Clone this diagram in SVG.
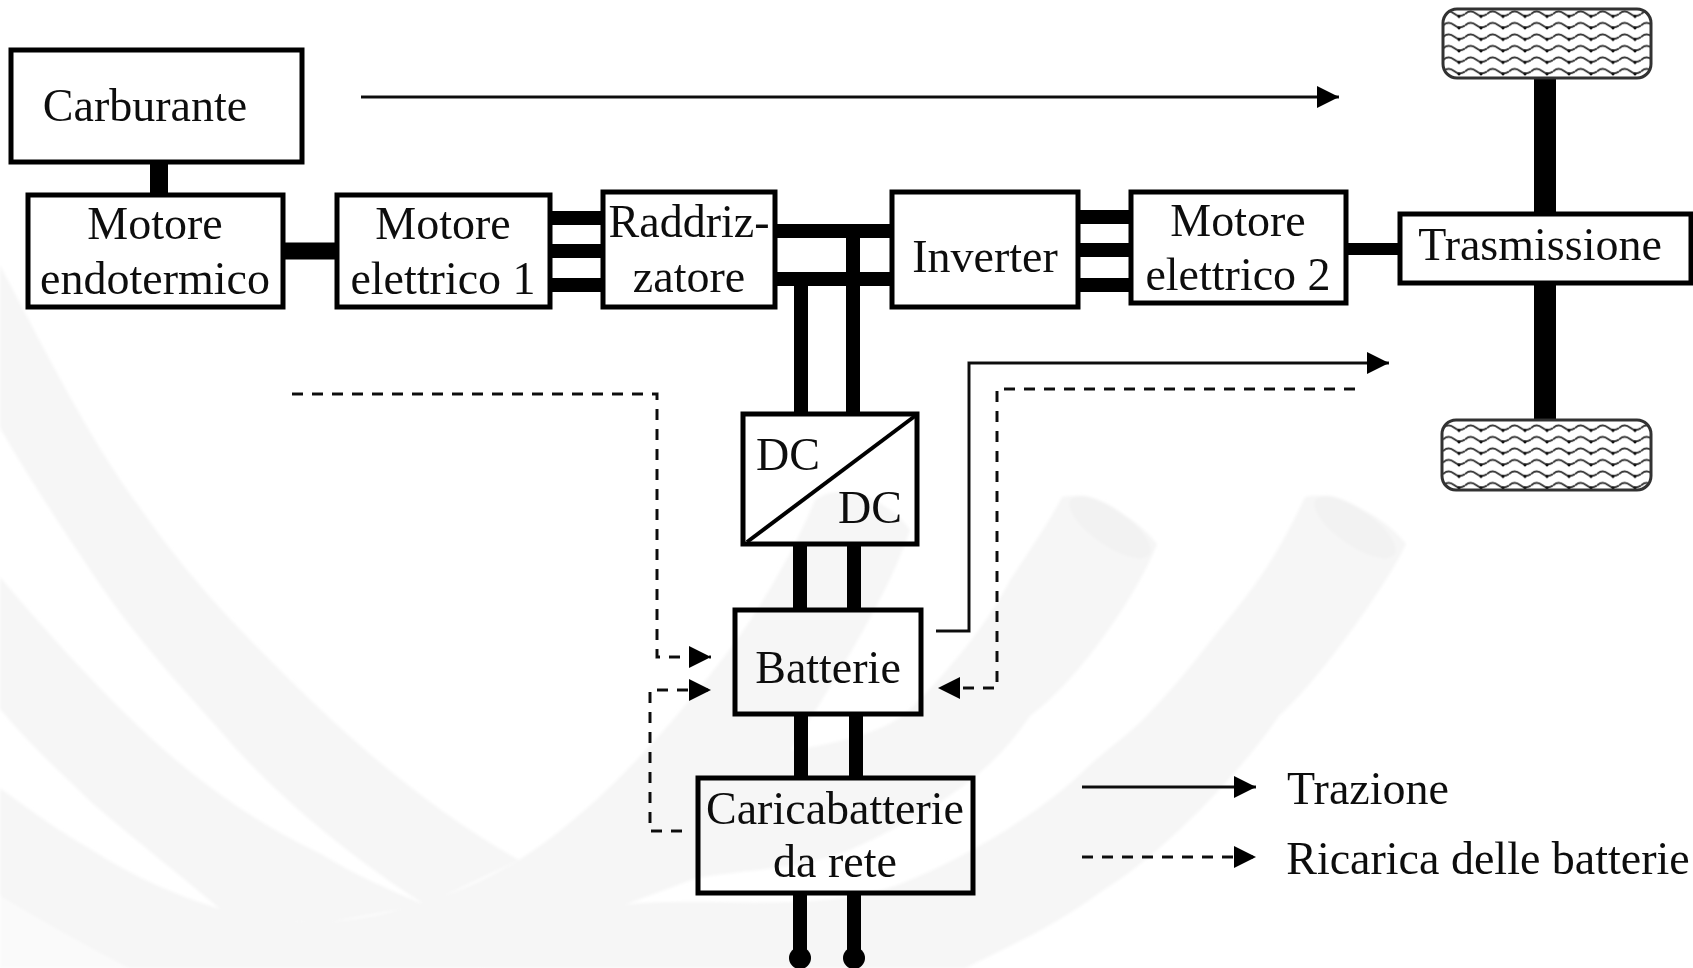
<svg xmlns="http://www.w3.org/2000/svg" width="1693" height="968" viewBox="0 0 1693 968">
<style>
.b{fill:#fff;stroke:#000;stroke-width:5}
.n{fill:none;stroke:#000;stroke-width:5}
.w{stroke:#000;stroke-width:14;fill:none}
.s{stroke:#111;stroke-width:3;fill:none}
.d{stroke:#111;stroke-width:3;fill:none;stroke-dasharray:11 9}
text{font-family:"Liberation Serif","Times New Roman",serif;font-size:46px;fill:#111;text-anchor:middle}
.tire{fill:url(#tread);stroke:#333;stroke-width:3}
.bg{fill:#f6f6f6}
</style>
<defs>
<pattern id="tread" x="1443" y="8" width="22" height="11.5" patternUnits="userSpaceOnUse">
<rect width="22" height="11.5" fill="#fff"/>
<path d="M0 6Q5.500 1 11 5.500T22 6" fill="none" stroke="#333" stroke-width="2"/>
<circle cx="16" cy="8.500" r="1.600" fill="#111"/>
</pattern>
<marker id="a" markerWidth="24" markerHeight="24" refX="23" refY="12" orient="auto" markerUnits="userSpaceOnUse"><path d="M1 1L23 12L1 23z" fill="#000"/></marker>
<filter id="soft" filterUnits="userSpaceOnUse" x="0" y="0" width="1693" height="968"><feGaussianBlur stdDeviation="0.6"/></filter>
<filter id="softer" filterUnits="userSpaceOnUse" x="0" y="0" width="1693" height="968"><feGaussianBlur stdDeviation="1.500"/></filter>
</defs>
<rect width="1693" height="968" fill="#fff"/>
<g id="background" filter="url(#softer)">
<path fill="#fafafa" d="M0 896C40 920 85 945 128 968L0 968Z"/>
<path class="bg" d="M0 265C50 360 90 440 138 505C190 580 235 625 285 675C350 740 430 810 519 860L425 905C340 850 270 790 216 726C170 675 130 630 92 573C60 525 30 480 0 428Z"/>
<path class="bg" d="M0 577C45 630 90 680 138 726C200 785 260 825 321 854C355 875 390 890 425 905L330 922C290 922 255 920 220 909C180 875 135 840 92 803C60 772 30 745 0 709Z"/>
<path class="bg" d="M0 788C30 810 60 832 92 850C130 875 175 895 220 909C255 920 290 922 330 922L330 968L128 968C85 945 40 920 0 896Z"/>
<path class="bg" d="M330 922C400 915 460 895 519 860C590 815 660 740 720 662C750 625 790 560 815 500C840 480 890 500 910 530C880 620 800 730 720 867L624 905C560 940 500 968 480 968L330 968Z"/>
<path class="bg" d="M1062 497C1090 490 1140 520 1157 544C1140 590 1080 680 1030 716C1000 760 960 800 850 850C800 870 740 870 697 878L624 905L720 760C800 750 880 740 910 709C950 670 990 620 1010 580C1030 550 1050 520 1062 497Z"/>
<path class="bg" d="M1305 497C1330 490 1385 515 1406 544C1390 580 1320 680 1279 716C1250 760 1170 850 1102 891C1050 930 1000 950 966 968L480 968C530 950 580 925 624 905C700 895 820 915 900 884C960 860 1030 820 1077 777C1110 745 1130 735 1153 709C1190 670 1210 640 1229 618C1260 580 1280 550 1305 497Z"/>
<ellipse cx="1110" cy="527" rx="48" ry="18" transform="rotate(35 1110 527)" fill="#f2f2f2"/>
<ellipse cx="1355" cy="527" rx="48" ry="18" transform="rotate(35 1355 527)" fill="#f2f2f2"/>
</g>
<g filter="url(#soft)">
<g id="connectors">
<path class="w" style="stroke-width:18" d="M159 162V195"/>
<path class="w" style="stroke-width:17" d="M283 251H337"/>
<path class="w" d="M550 218H603M550 251H603M550 285H603M775 231H892M775 279H892M1078 217H1131M1078 250H1131M1078 285H1131"/>
<path class="w" style="stroke-width:12" d="M1346 249H1400"/>
<path class="w" style="stroke-width:22" d="M1545 78V214M1545 283V420"/>
<path class="w" d="M801 279V414M853 231V414M800 544V610M854 544V610M801 714V778M856 714V778M800 893V955M854 893V955"/>
<circle cx="800" cy="958" r="11"/><circle cx="854" cy="958" r="11"/>
<path class="s" marker-end="url(#a)" d="M361 97H1339"/>
<path class="s" marker-end="url(#a)" d="M936 631H969V363H1389"/>
<path class="d" d="M1355 389H997V688H938" marker-end="url(#a)"/>
<path class="d" d="M292 394H657V657H711" marker-end="url(#a)"/>
<path class="d" d="M682 831H650V690H711" marker-end="url(#a)"/>
<path class="s" marker-end="url(#a)" d="M1082 787H1256"/>
<path class="d" d="M1082 857H1256" marker-end="url(#a)"/>
</g>
<g id="carburante"><rect class="b" x="11" y="50" width="291" height="112"/><text x="145" y="121">Carburante</text></g>
<g id="motore-endotermico"><rect class="b" x="28" y="195" width="255" height="112"/><text x="155" y="239">Motore</text><text x="155" y="294">endotermico</text></g>
<g id="motore-elettrico-1"><rect class="b" x="337" y="195" width="213" height="112"/><text x="443" y="239">Motore</text><text x="443" y="294">elettrico 1</text></g>
<g id="raddrizzatore"><rect class="b" x="603" y="192" width="172" height="115"/><text x="689" y="237">Raddriz-</text><text x="689" y="292">zatore</text></g>
<g id="inverter"><rect class="b" x="892" y="192" width="186" height="115"/><text x="985" y="272">Inverter</text></g>
<g id="motore-elettrico-2"><rect class="b" x="1131" y="192" width="215" height="111"/><text x="1238" y="236">Motore</text><text x="1238" y="290">elettrico 2</text></g>
<g id="trasmissione"><rect class="b" x="1400" y="214" width="291" height="69"/><text x="1540" y="260">Trasmissione</text></g>
<g id="dcdc"><rect class="n" x="743" y="414" width="174" height="130"/><path d="M747 542L915 416" stroke="#000" stroke-width="4"/><text x="788" y="470">DC</text><text x="870" y="523">DC</text></g>
<g id="batterie"><rect class="n" x="735" y="610" width="186" height="104"/><text x="828" y="683">Batterie</text></g>
<g id="caricabatterie"><rect class="n" x="698" y="778" width="275" height="115"/><text x="835" y="824">Caricabatterie</text><text x="835" y="877">da rete</text></g>
<g id="ruota-1"><rect class="tire" x="1443" y="9" width="208" height="69" rx="14"/></g>
<g id="ruota-2"><rect class="tire" x="1442" y="420" width="209" height="70" rx="14"/></g>
<g id="legenda"><text x="1368" y="804">Trazione</text><text x="1488" y="874">Ricarica delle batterie</text></g>
</g>
</svg>
